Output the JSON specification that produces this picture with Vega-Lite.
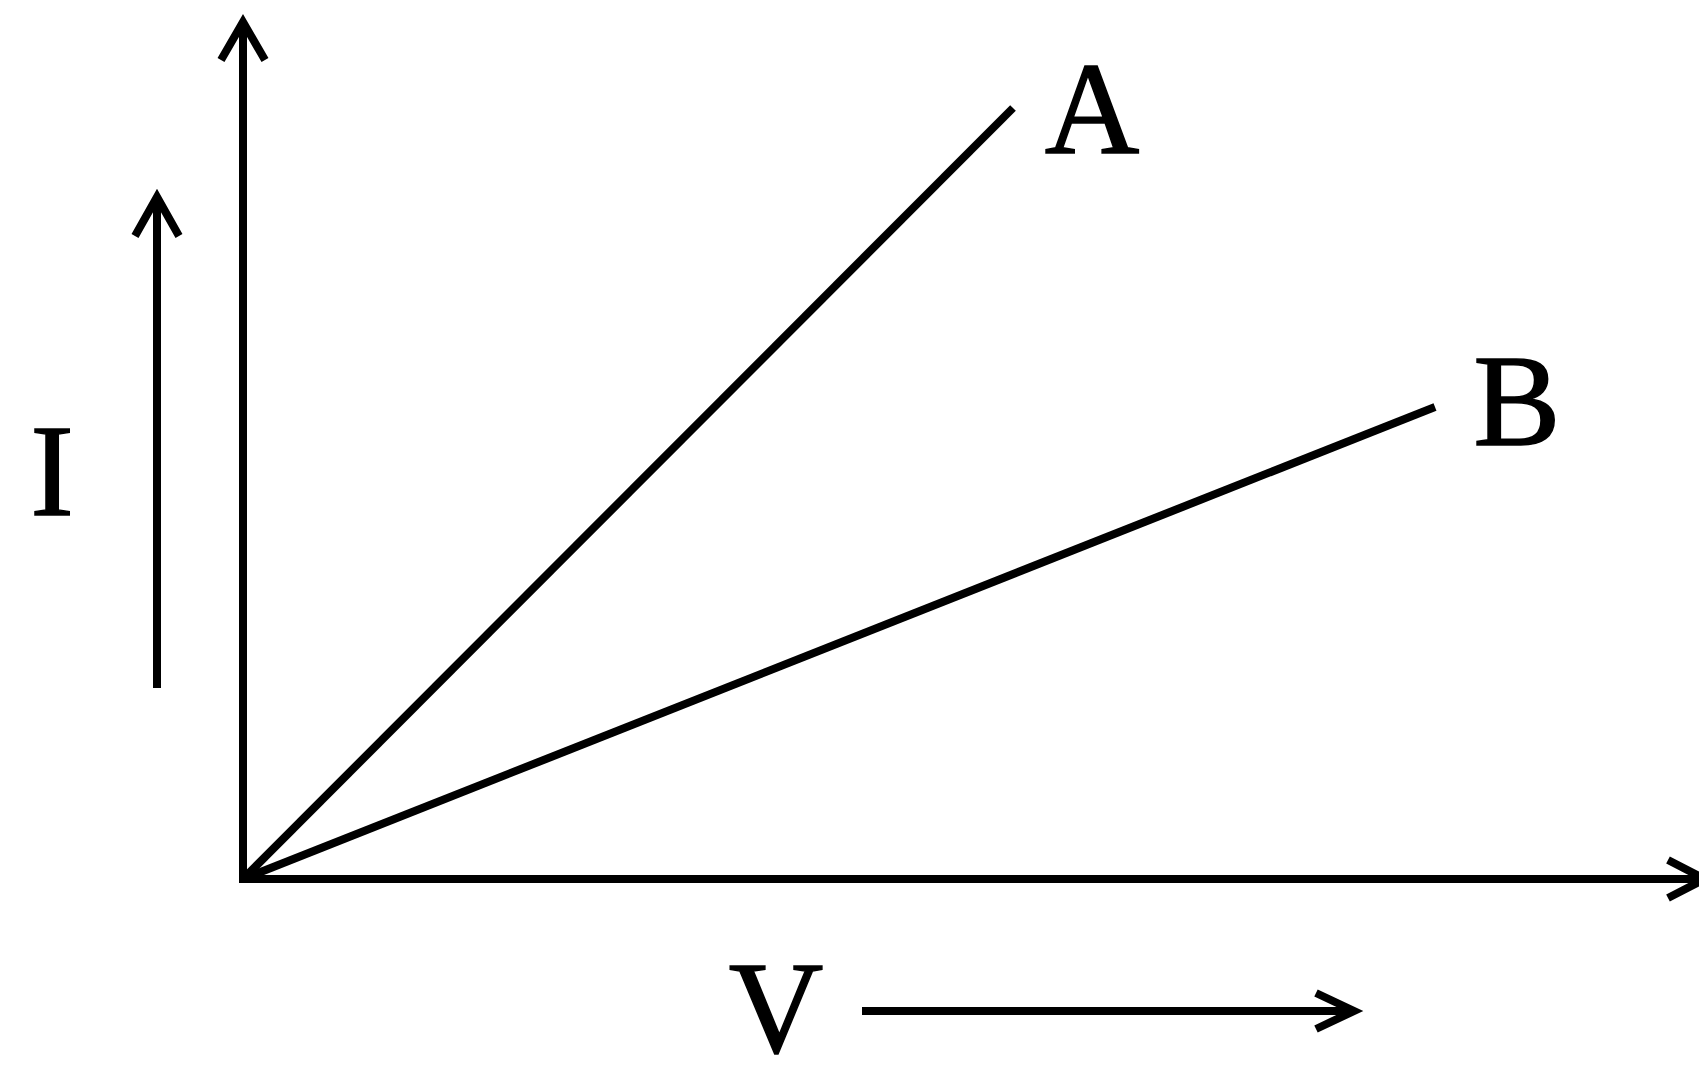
{
  "$schema": "https://vega.github.io/schema/vega-lite/v6.json",
  "width": 1699,
  "height": 1065,
  "autosize": "none",
  "padding": 0,
  "background": "white",
  "config": {"view": {"stroke": null}},
  "datasets": {
    "paths": [
      {"path": "axes", "k": 0, "V": 0, "I": 8.57},
      {"path": "axes", "k": 1, "V": 0, "I": 0},
      {"path": "axes", "k": 2, "V": 14.62, "I": 0},
      {"path": "yhead", "k": 0, "V": -0.22, "I": 8.19},
      {"path": "yhead", "k": 1, "V": 0, "I": 8.57},
      {"path": "yhead", "k": 2, "V": 0.22, "I": 8.19},
      {"path": "xhead", "k": 0, "V": 14.25, "I": 0.19},
      {"path": "xhead", "k": 1, "V": 14.62, "I": 0},
      {"path": "xhead", "k": 2, "V": 14.25, "I": -0.19},
      {"path": "A", "k": 0, "V": 0, "I": 0},
      {"path": "A", "k": 1, "V": 7.70, "I": 7.71},
      {"path": "B", "k": 0, "V": 0, "I": 0},
      {"path": "B", "k": 1, "V": 11.92, "I": 4.72},
      {"path": "Iarrow", "k": 0, "V": -0.86, "I": 1.91},
      {"path": "Iarrow", "k": 1, "V": -0.86, "I": 6.82},
      {"path": "Ihead", "k": 0, "V": -1.08, "I": 6.43},
      {"path": "Ihead", "k": 1, "V": -0.86, "I": 6.82},
      {"path": "Ihead", "k": 2, "V": -0.64, "I": 6.43},
      {"path": "Varrow", "k": 0, "V": 6.19, "I": -1.32},
      {"path": "Varrow", "k": 1, "V": 11.11, "I": -1.32},
      {"path": "Vhead", "k": 0, "V": 10.73, "I": -1.14},
      {"path": "Vhead", "k": 1, "V": 11.11, "I": -1.32},
      {"path": "Vhead", "k": 2, "V": 10.73, "I": -1.50}
    ],
    "labels": [
      {"label": "A", "V": 8.49, "I": 7.26},
      {"label": "B", "V": 12.74, "I": 4.34},
      {"label": "I", "V": -1.91, "I": 3.64},
      {"label": "V", "V": 5.33, "I": -1.73}
    ]
  },
  "layer": [
    {
      "data": {"name": "paths"},
      "mark": {"type": "line", "color": "black", "strokeWidth": 8, "strokeJoin": "miter", "strokeCap": "butt", "clip": true},
      "encoding": {
        "x": {"field": "V", "type": "quantitative", "scale": {"domain": [-2.43, 14.56], "nice": false, "zero": false}, "axis": null},
        "y": {"field": "I", "type": "quantitative", "scale": {"domain": [-1.86, 8.79], "nice": false, "zero": false}, "axis": null},
        "detail": {"field": "path"},
        "order": {"field": "k"}
      }
    },
    {
      "data": {"name": "labels"},
      "mark": {"type": "text", "font": "Liberation Serif", "fontSize": 131, "align": "center", "baseline": "alphabetic", "color": "black", "stroke": "black", "strokeWidth": 1.5},
      "encoding": {
        "x": {"field": "V", "type": "quantitative"},
        "y": {"field": "I", "type": "quantitative"},
        "text": {"field": "label"}
      }
    }
  ]
}
